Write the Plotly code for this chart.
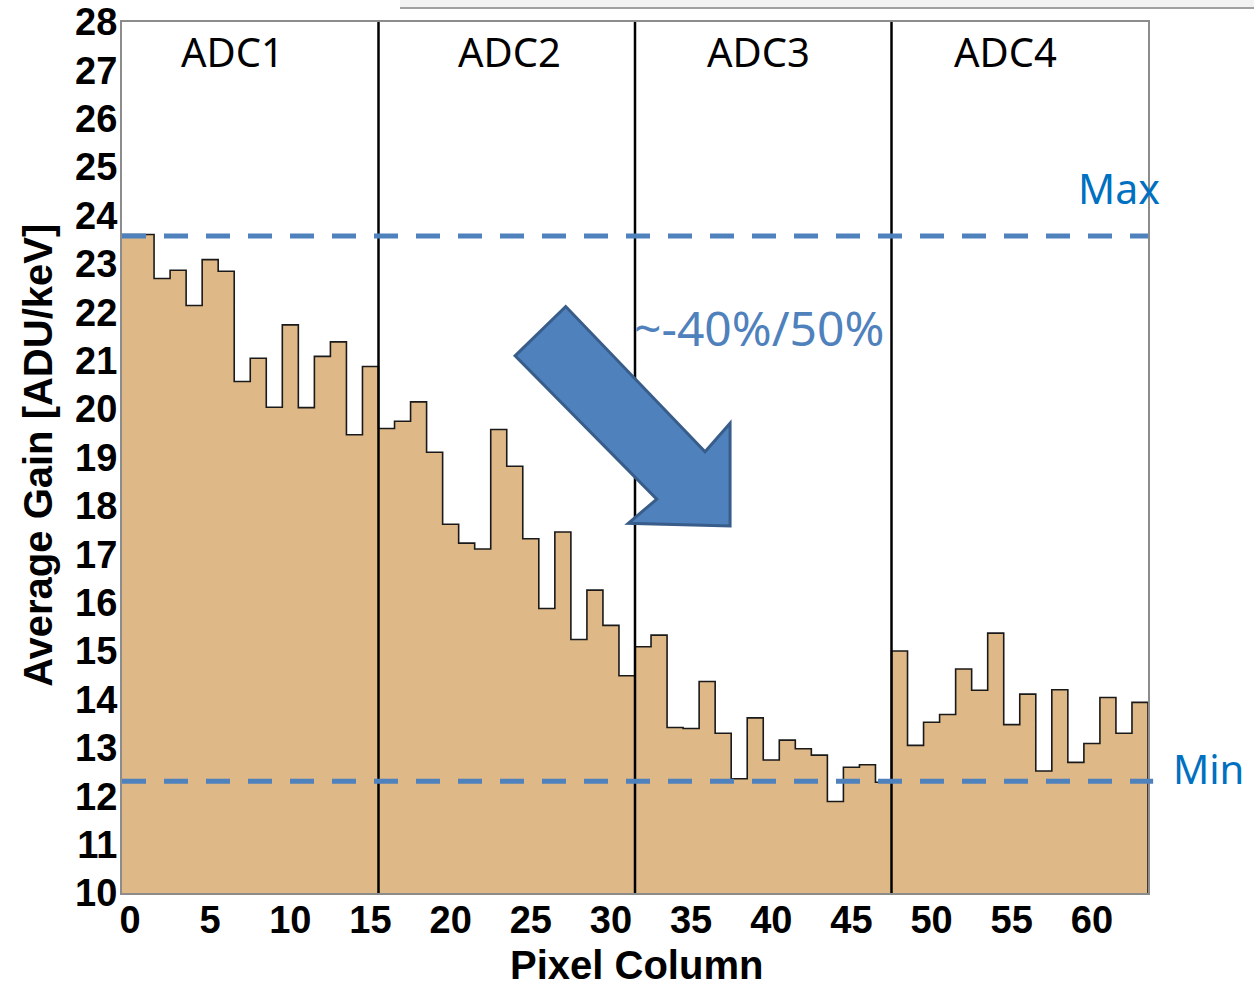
import plotly.graph_objects as go

# ---- data ----
pixel_columns = list(range(64))
avg_gain = [
    23.61, 23.61, 22.70, 22.87, 22.14, 23.09, 22.85, 20.57,
    21.05, 20.04, 21.74, 20.03, 21.09, 21.39, 19.47, 20.88,
    19.60, 19.75, 20.15, 19.11, 17.62, 17.23, 17.11, 19.58,
    18.82, 17.32, 15.88, 17.46, 15.24, 16.26, 15.53, 14.49,
    15.09, 15.33, 13.42, 13.40, 14.37, 13.30, 12.36, 13.62,
    12.75, 13.16, 12.98, 12.85, 11.89, 12.60, 12.65, 12.29,
    15.00, 13.05, 13.53, 13.69, 14.63, 14.19, 15.37, 13.48,
    14.11, 12.52, 14.20, 12.70, 13.09, 14.04, 13.30, 13.94,
]
adc_labels = ["ADC1", "ADC2", "ADC3", "ADC4"]
adc_label_x = [6.4, 23.7, 39.2, 54.6]
adc_boundaries = [15.5, 31.5, 47.5]
gain_max = 23.58
gain_min = 12.31
x_ticks = list(range(0, 61, 5))
y_ticks = list(range(10, 29))
arrow_x = [27.18, 24.02, 32.86, 31.08, 37.43, 37.43, 35.87]
arrow_y = [22.12, 21.10, 18.14, 17.64, 17.585, 19.71, 19.12]

FILL = "#DEB887"
BLUE = "#4F81BD"
TXT_BLUE = "#0070C0"

fig = go.Figure()

fig.add_trace(go.Bar(
    x=pixel_columns, y=avg_gain, width=1.0,
    marker=dict(color=FILL, line=dict(width=0)),
    showlegend=False, hoverinfo="x+y",
))

# step outline of the histogram
edges = [c - 0.5 for c in pixel_columns] + [pixel_columns[-1] + 0.5]
step_y = avg_gain + [avg_gain[-1]]
fig.add_trace(go.Scatter(
    x=edges, y=step_y, mode="lines",
    line=dict(color="#1a1a1a", width=1.6, shape="hv"),
    showlegend=False, hoverinfo="skip",
))
fig.add_trace(go.Scatter(
    x=[edges[-1], edges[-1]], y=[avg_gain[-1], 10], mode="lines",
    line=dict(color="#1a1a1a", width=1.6), showlegend=False, hoverinfo="skip",
))

shapes = []
for b in adc_boundaries:
    shapes.append(dict(type="line", xref="x", yref="y", x0=b, x1=b, y0=10, y1=28,
                       line=dict(color="black", width=2.5), layer="above"))
shapes.append(dict(type="line", xref="paper", yref="y", x0=0, x1=1.0, y0=gain_max, y1=gain_max,
                   line=dict(color=BLUE, width=5, dash="24px,18px"), layer="above"))
shapes.append(dict(type="line", xref="paper", yref="y", x0=0, x1=1.005, y0=gain_min, y1=gain_min,
                   line=dict(color=BLUE, width=5, dash="24px,18px"), layer="above"))
path = "M " + " L ".join(f"{x},{y}" for x, y in zip(arrow_x, arrow_y)) + " Z"
shapes.append(dict(type="path", xref="x", yref="y", path=path, fillcolor=BLUE,
                   line=dict(color="#385D8A", width=3), layer="above"))
# slide artifact at the top
shapes.append(dict(type="rect", xref="paper", yref="paper", x0=0.271, x1=1.11, y0=1.0161, y1=1.03,
                   fillcolor="#f2f2f2", line=dict(width=0), layer="above"))
shapes.append(dict(type="line", xref="paper", yref="paper", x0=0.271, x1=1.11, y0=1.0161, y1=1.0161,
                   line=dict(color="#a0a0a0", width=2), layer="above"))

annotations = []
for lab, lx in zip(adc_labels, adc_label_x):
    annotations.append(dict(x=lx, y=27.4, xref="x", yref="y", text=lab, showarrow=False,
                            xanchor="center",
                            font=dict(family="Noto Sans", size=40, color="black")))
annotations.append(dict(x=0.972, y=24.57, xref="paper", yref="y", text="Max", showarrow=False,
                        xanchor="center", yanchor="middle",
                        font=dict(family="Noto Sans", size=41, color=TXT_BLUE)))
annotations.append(dict(x=1.0585, y=12.58, xref="paper", yref="y", text="Min", showarrow=False,
                        xanchor="center", yanchor="middle",
                        font=dict(family="Noto Sans", size=40, color=TXT_BLUE)))
annotations.append(dict(x=39.24, y=21.68, xref="x", yref="y", text="~-40%/50%", showarrow=False,
                        xanchor="center", yanchor="middle",
                        font=dict(family="Noto Sans", size=48, color=BLUE)))
# axis titles
annotations.append(dict(x=0.501, y=-0.0827, xref="paper", yref="paper", text="<b>Pixel Column</b>",
                        showarrow=False, xanchor="center", yanchor="middle",
                        font=dict(family="Liberation Sans", size=40, color="black")))
annotations.append(dict(x=-0.0819, y=0.503, xref="paper", yref="paper", text="<b>Average Gain [ADU/keV]</b>",
                        showarrow=False, xanchor="center", yanchor="middle", textangle=-90,
                        font=dict(family="Liberation Sans", size=40, color="black")))

tick_font = dict(family="Liberation Sans", size=38, color="black", weight="bold")
fig.update_layout(
    width=1254, height=983,
    margin=dict(l=122, r=106, t=22, b=90),
    paper_bgcolor="white", plot_bgcolor="white",
    bargap=0,
    shapes=shapes, annotations=annotations,
    xaxis=dict(range=[-0.5, 63.5], tickvals=x_ticks, ticks="", showgrid=False, zeroline=False,
               showline=True, mirror=True, linecolor="#8c8c8c", linewidth=2,
               automargin=False, ticklabeloverflow="allow", ticklabelstandoff=-8, tickfont=tick_font),
    yaxis=dict(range=[10, 28], tickvals=y_ticks, ticks="", showgrid=False, zeroline=False,
               showline=True, mirror=True, linecolor="#8c8c8c", linewidth=2,
               automargin=False, ticklabeloverflow="allow", ticklabelstandoff=-5, tickfont=tick_font),
)

fig.write_html("out.html", config={"displayModeBar": False},
               post_script="document.body.style.margin='0';document.body.style.overflow='hidden';")
